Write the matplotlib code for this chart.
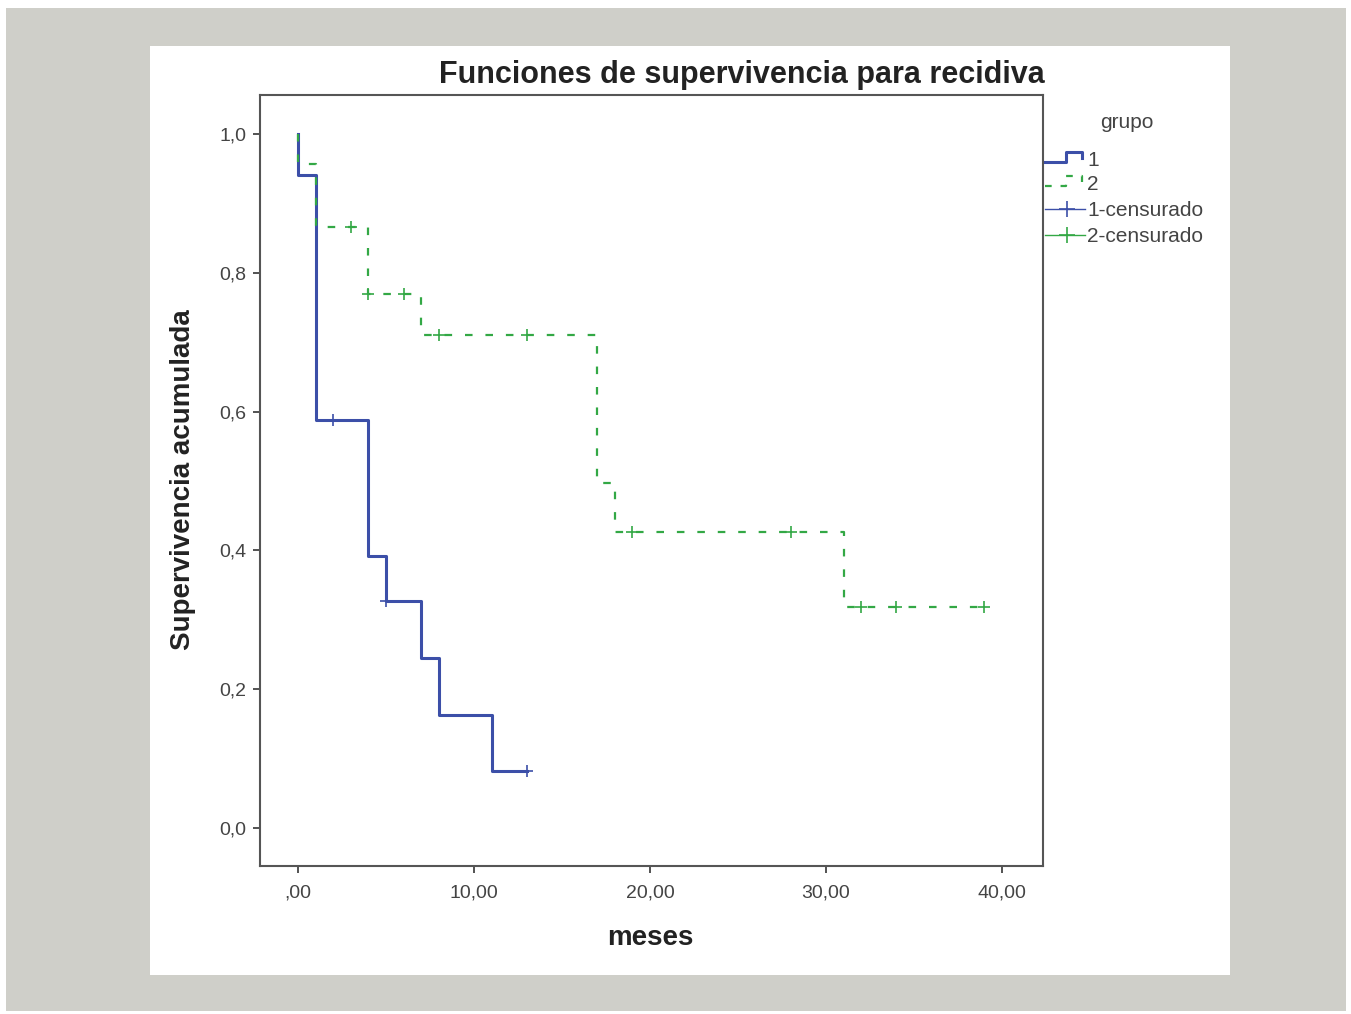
import matplotlib
matplotlib.use("Agg")
import matplotlib.pyplot as plt
from matplotlib.patches import Rectangle

# group 1 (blue, solid)
t_event1 = [0, 1, 4, 5, 7, 8, 11]
surv1 = [0.941, 0.588, 0.392, 0.327, 0.245, 0.163, 0.082]
t_end1 = 13
cens_t1 = [2, 5, 13]
cens_s1 = [0.588, 0.327, 0.082]

# group 2 (green, dashed)
t_event2 = [0, 1, 4, 7, 17, 18, 31]
surv2 = [0.957, 0.866, 0.769, 0.710, 0.497, 0.427, 0.319]
t_end2 = 39
cens_t2 = [3, 4, 6, 8, 13, 19, 28, 32, 34, 39]
cens_s2 = [0.866, 0.769, 0.769, 0.710, 0.710, 0.427, 0.427, 0.319, 0.319, 0.319]

x_ticks = [0, 10, 20, 30, 40]
x_ticklabels = [",00", "10,00", "20,00", "30,00", "40,00"]
y_ticks = [0.0, 0.2, 0.4, 0.6, 0.8, 1.0]
y_ticklabels = ["0,0", "0,2", "0,4", "0,6", "0,8", "1,0"]
legend_labels = ["1", "2", "1-censurado", "2-censurado"]

blue = "#3c4fa8"
green = "#33a845"
W, H = 1351, 1014

plt.rcParams["font.family"] = ["Liberation Sans", "DejaVu Sans"]
fig = plt.figure(figsize=(W / 100, H / 100), dpi=100)
fig.patch.set_facecolor("white")

# background gray and white panel (pixel coords)
def px_rect(x0, y0, x1, y1, color):
    fig.patches.append(Rectangle((x0 / W, 1 - y1 / H), (x1 - x0) / W, (y1 - y0) / H,
                                 transform=fig.transFigure, facecolor=color,
                                 edgecolor="none", zorder=-10))

px_rect(6, 8, 1346, 1011, "#cfcfc9")
px_rect(150, 46, 1230, 975, "white")

ax = fig.add_axes([260 / W, 1 - 866 / H, (1043 - 260) / W, (866 - 95) / H])
ax.set_facecolor("white")

x1 = [0] + t_event1 + [t_end1]
y1 = [1.0] + surv1 + [surv1[-1]]
x2 = [0] + t_event2 + [t_end2]
y2 = [1.0] + surv2 + [surv2[-1]]

ax.step(x1, y1, where="post", color=blue, lw=2.2, zorder=3)
l2, = ax.step(x2, y2, where="post", color=green, lw=1.6, zorder=4)
l2.set_dashes((3.4, 5.8))
ax.plot(cens_t1, cens_s1, ls="none", marker="+", ms=9, mew=1.2, color=blue, zorder=5)
ax.plot(cens_t2, cens_s2, ls="none", marker="+", ms=9, mew=1.2, color=green, zorder=5)

ax.set_xlim(-2.16, 42.33)
ax.set_ylim(-0.0548, 1.056)
ax.set_xticks(x_ticks)
ax.set_xticklabels(x_ticklabels)
ax.set_yticks(y_ticks)
ax.set_yticklabels(y_ticklabels)
ax.tick_params(direction="out", length=5, width=1.3, color="#444444",
               labelsize=14, labelcolor="#444444")
ax.tick_params(axis="x", pad=8)
ax.tick_params(axis="y", pad=5)
for s in ax.spines.values():
    s.set_color("#555555")
    s.set_linewidth(1.5)

fig.text(742 / W, 1 - 75 / H, "Funciones de supervivencia para recidiva",
         ha="center", va="center", fontsize=22, fontweight="bold", color="#222222")
fig.text(183 / W, 1 - 480 / H, "Supervivencia acumulada", rotation=90,
         ha="center", va="center", fontsize=20, fontweight="bold", color="#222222")
fig.text(650 / W, 1 - 938 / H, "meses", ha="center", va="center",
         fontsize=20, fontweight="bold", color="#222222")

# legend drawn in a pixel-coordinate axes
lg = fig.add_axes([1040 / W, 1 - 260 / H, 190 / W, 160 / H])
lg.set_xlim(1040, 1230)
lg.set_ylim(260, 100)
lg.axis("off")
lg.text(1127, 122, "grupo", ha="center", va="center", fontsize=15, color="#444444")
lg.plot([1045, 1066, 1066, 1082, 1082], [162, 162, 152, 152, 158], color=blue, lw=2.2)
ld, = lg.plot([1045, 1066, 1066, 1082, 1082], [186, 186, 176, 176, 182], color=green, lw=1.6)
ld.set_dashes((3, 4))
lg.plot([1045, 1085], [209, 209], color=blue, lw=1)
lg.plot([1067], [209], marker="+", ms=11, mew=1.2, color=blue)
lg.plot([1045, 1085], [235, 235], color=green, lw=1)
lg.plot([1067], [235], marker="+", ms=11, mew=1.2, color=green)
for yy, lab in zip([160, 184, 210, 236], legend_labels):
    lg.text(1087, yy, lab, ha="left", va="center", fontsize=15, color="#444444")

fig.savefig("out.png", dpi=100)
